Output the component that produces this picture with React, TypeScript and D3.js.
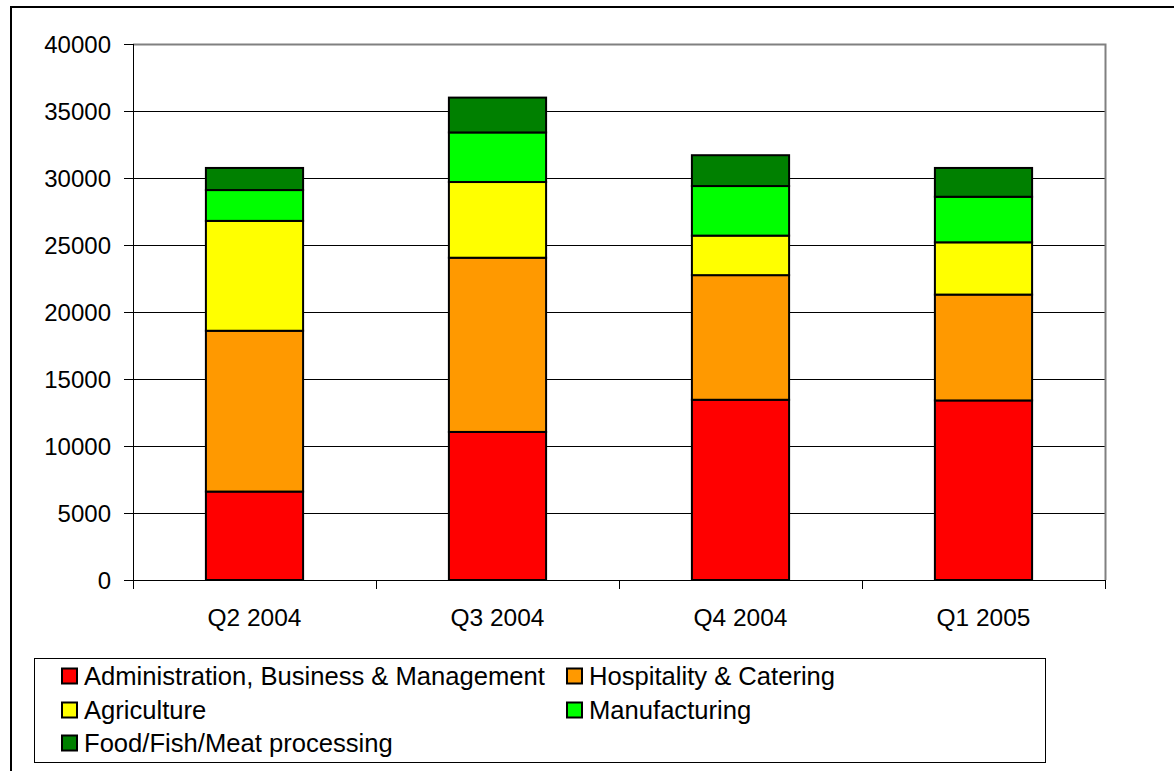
import React from "react";
import * as d3 from "d3";

const categories = ["Q2 2004", "Q3 2004", "Q4 2004", "Q1 2005"];
const seriesNames = [
  "Administration, Business & Management",
  "Hospitality & Catering",
  "Agriculture",
  "Manufacturing",
  "Food/Fish/Meat processing",
];
const seriesColors = ["#FF0000", "#FF9900", "#FFFF00", "#00FF00", "#008000"];
const admin = [6600, 11050, 13450, 13400];
const hospitality = [12000, 13000, 9300, 7900];
const agriculture = [8200, 5650, 2950, 3900];
const manufacturing = [2300, 3700, 3700, 3400];
const food = [1650, 2600, 2300, 2150];
const yTicks = [0, 5000, 10000, 15000, 20000, 25000, 30000, 35000, 40000];

const W = 1174;
const H = 771;
const plot = { left: 133, right: 1105, top: 44, bottom: 580 };
const FONT = "Liberation Sans, Arial, sans-serif";

export default function App() {
  const seriesValues = [admin, hospitality, agriculture, manufacturing, food];
  const rows = categories.map((c, i) => {
    const r: any = { cat: c };
    seriesNames.forEach((s, k) => (r[s] = seriesValues[k][i]));
    return r;
  });
  const stacked = d3.stack<any>().keys(seriesNames)(rows);

  const x = d3
    .scaleBand<string>()
    .domain(categories)
    .range([plot.left, plot.right])
    .paddingInner(0.6)
    .paddingOuter(0.3);
  const band = (plot.right - plot.left) / categories.length;
  const y = d3.scaleLinear().domain([0, 40000]).range([plot.bottom, plot.top]);

  const legendItems = [
    { name: seriesNames[0], color: seriesColors[0], x: 62, y: 676 },
    { name: seriesNames[1], color: seriesColors[1], x: 567, y: 676 },
    { name: seriesNames[2], color: seriesColors[2], x: 62, y: 710 },
    { name: seriesNames[3], color: seriesColors[3], x: 567, y: 710 },
    { name: seriesNames[4], color: seriesColors[4], x: 62, y: 743 },
  ];

  return (
    <svg
      width={W}
      height={H}
      style={{ position: "absolute", left: 0, top: 0, background: "#fff" }}
      fontFamily={FONT}
    >
      <rect x={0} y={0} width={W} height={H} fill="#fff" />
      {/* outer frame */}
      <rect x={11} y={7} width={W + 20} height={H + 20} fill="none" stroke="#000" strokeWidth={2} />
      {/* gridlines */}
      {yTicks.map((t) => (
        <line
          key={t}
          x1={plot.left}
          x2={plot.right}
          y1={Math.round(y(t)) + 0.5}
          y2={Math.round(y(t)) + 0.5}
          stroke="#000"
          strokeWidth={1}
        />
      ))}
      {/* plot area border (top/right) */}
      <path
        d={`M${plot.left},${plot.top + 0.5}H${plot.right + 0.5}V${plot.bottom}`}
        fill="none"
        stroke="#808080"
        strokeWidth={2}
      />
      {/* bars */}
      {stacked.map((layer, k) => (
        <g key={layer.key}>
          {layer.map((d, i) => (
            <rect
              key={i}
              x={x(categories[i])!}
              y={y(d[1])}
              width={x.bandwidth()}
              height={y(d[0]) - y(d[1])}
              fill={seriesColors[k]}
              stroke="#000"
              strokeWidth={2}
            />
          ))}
        </g>
      ))}
      {/* y axis */}
      <line x1={plot.left + 0.5} x2={plot.left + 0.5} y1={plot.top} y2={plot.bottom} stroke="#000" />
      {yTicks.map((t) => (
        <g key={t}>
          <line
            x1={plot.left - 9}
            x2={plot.left}
            y1={Math.round(y(t)) + 0.5}
            y2={Math.round(y(t)) + 0.5}
            stroke="#000"
          />
          <text
            x={111}
            y={y(t)}
            textAnchor="end"
            dominantBaseline="central"
            fontSize={24}
            fill="#000"
          >
            {t}
          </text>
        </g>
      ))}
      {/* x axis */}
      <line x1={plot.left} x2={plot.right} y1={plot.bottom + 0.5} y2={plot.bottom + 0.5} stroke="#000" />
      {d3.range(categories.length + 1).map((i) => (
        <line
          key={i}
          x1={Math.round(plot.left + i * band) + 0.5}
          x2={Math.round(plot.left + i * band) + 0.5}
          y1={plot.bottom}
          y2={plot.bottom + 9}
          stroke="#000"
        />
      ))}
      {categories.map((c) => (
        <text
          key={c}
          x={x(c)! + x.bandwidth() / 2}
          y={617}
          textAnchor="middle"
          dominantBaseline="central"
          fontSize={24.5}
          fill="#000"
        >
          {c}
        </text>
      ))}
      {/* legend */}
      <rect x={34.5} y={658.5} width={1011} height={104} fill="#fff" stroke="#000" strokeWidth={1} />
      {legendItems.map((it) => (
        <g key={it.name}>
          <rect x={it.x} y={it.y - 7.5} width={15} height={15} fill={it.color} stroke="#000" strokeWidth={2} />
          <text x={it.x + 22} y={it.y} dominantBaseline="central" fontSize={25.6} fill="#000">
            {it.name}
          </text>
        </g>
      ))}
    </svg>
  );
}
